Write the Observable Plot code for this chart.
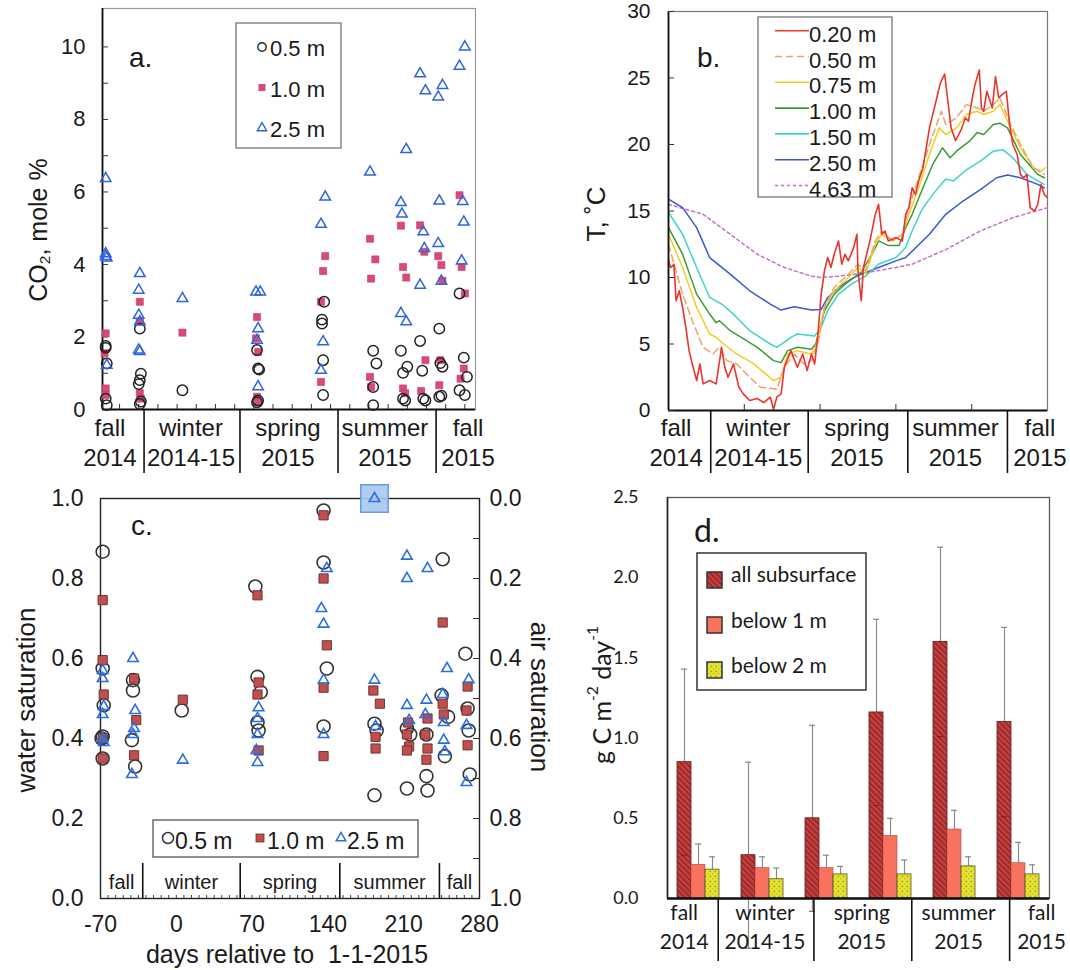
<!DOCTYPE html>
<html>
<head>
<meta charset="utf-8">
<script src="https://cdn.jsdelivr.net/npm/d3@7"></script>
<script src="https://cdn.jsdelivr.net/npm/@observablehq/plot@0.6"></script>
<style>
html,body{margin:0;padding:0;background:#fff;}
#fig{position:relative;width:1070px;height:970px;overflow:hidden;background:#fff;}
#fig svg{position:absolute;overflow:visible;}
</style>
</head>
<body>
<div id="fig"></div>
<script>
// ---------------- shared season axis ----------------
const dayDomain = [-70, 280];
const seasonBounds = [-31, 59, 151, 243];
const seasonNames = ["fall\n2014", "winter\n2014-15", "spring\n2015", "summer\n2015", "fall\n2015"];
const seasonShort = ["fall", "winter", "spring", "summer", "fall"];
const seasonLabelDays = [-63, 13, 104, 195, 273];

// ---------------- panel a: CO2 mole % ----------------
const co2At05 = [
[-67,1.75],[-67,1.70],[-66,1.27],[-67,0.30],[-66,0.12],
[-35,2.23],[-34,0.99],[-35,0.81],[-36,0.70],[-35,0.15],[-34,0.22],
[5,0.53],
[75,1.64],[76,1.13],[77,1.10],[75,0.20],[76,0.25],
[138,2.97],[136,2.48],[136,2.37],[137,1.36],[137,0.40],
[184,1.62],[187,1.27],[184,0.62],[184,0.12],
[210,1.62],[216,1.18],[212,1.01],[212,0.30],[214,0.25],
[228,1.89],[230,1.07],[231,0.30],[233,0.25],
[246,2.23],[249,1.18],[247,1.28],[248,0.38],[246,0.35],
[265,3.20],[269,1.43],[272,0.90],[265,0.53],[270,0.40]
];
const co2At10 = [
[-67,2.10],[-68,1.55],[-67,0.58],[-67,0.40],
[-35,2.97],[-35,2.42],[-35,0.45],[-34,0.30],
[5,2.12],
[75,2.55],[74,1.96],[76,1.59],[75,0.35],[76,0.20],
[139,4.23],[137,3.82],[135,2.97],[135,0.76],
[181,4.71],[186,4.14],[182,3.61],[181,0.90],[182,0.62],
[210,5.07],[212,3.93],[215,3.64],[212,0.58],[214,0.45],
[228,5.08],[232,4.35],[233,1.36],[229,0.51],
[245,4.23],[248,3.98],[249,3.55],[247,1.36],[246,0.67],
[265,5.91],[267,3.93],[270,3.20],[269,1.13],[266,0.85]
];
const co2At25 = [
[-67,6.37],[-67,4.30],[-67,4.22],[-66,4.18],[-66,1.22],
[-35,3.75],[-36,3.29],[-36,2.60],[-35,2.42],[-36,1.64],[-35,1.60],
[5,3.06],
[74,3.24],[78,3.24],[76,2.23],[75,1.91],[76,0.63],
[139,5.86],[135,5.11],[137,1.87],[135,1.08],
[181,6.55],
[215,7.17],[210,5.71],[211,5.39],[210,2.65],[215,2.42],
[228,9.26],[233,8.79],[231,4.90],[232,4.44],[228,3.43],
[249,8.94],[245,8.62],[246,5.75],[245,4.58],[248,3.54],
[270,10.0],[265,9.47],[268,5.74],[269,5.17],[267,4.10]
];
const co2Ticks = [0, 2, 4, 6, 8, 10];
const co2MinorTicks = [1, 2, 3, 4, 5, 6, 7, 8, 9, 10];
const co2Max = 11.06;
const aMinorDays = [-54, -36, -18, 0, 18, 36, 54, 72, 90, 108, 126, 144, 162, 180, 198, 216, 234, 252, 270];

// ---------------- panel b: temperature ----------------
const tDepths = ["0.20 m", "0.50 m", "0.75 m", "1.00 m", "1.50 m", "2.50 m", "4.63 m"];
const tColors = ["#e8352e", "#f3a064", "#f4cd22", "#3c9a3c", "#3fd3c9", "#3a58d0", "#c46fd0"];
const tDashes = [null, "7,4", null, null, null, null, "3,3"];
const T020 = [[-70,11.25],[-68,10.75],[-65,11.0],[-63,8.25],[-60,9.0],[-57,7.75],[-54,6.25],[-51,4.5],[-48,3.5],[-44,2.25],[-41,3.5],[-38,2.0],[-32,2.25],[-26,2.0],[-21,4.75],[-18,3.25],[-15,2.5],[-10,3.5],[-5,1.75],[-1,1.25],[5,0.75],[12,0.9],[18,0.6],[24,1.0],[27,0.1],[30,1.0],[34,1.25],[37,3.25],[43,4.5],[49,3.25],[54,4.25],[58,3.0],[62,4.25],[65,3.5],[68,5.75],[71,8.75],[74,10.5],[77,11.5],[80,10.75],[83,11.75],[87,12.75],[90,11.0],[93,11.75],[96,11.25],[101,12.25],[104,13.25],[105,10.5],[108,8.25],[110,10.75],[113,11.75],[116,12.75],[121,14.75],[124,15.5],[127,13.25],[130,13.5],[133,12.75],[140,13.0],[146,12.75],[149,14.75],[152,15.25],[155,16.75],[158,16.25],[161,17.25],[165,18.25],[171,21.25],[177,23.25],[181,24.6],[185,25.3],[188,23.25],[191,21.25],[195,20.3],[198,20.75],[201,21.25],[204,22.0],[207,21.75],[210,23.25],[213,24.5],[217,25.6],[219,22.75],[221,22.5],[224,24.0],[227,23.25],[229,22.75],[232,25.1],[235,23.5],[238,23.75],[242,24.0],[245,21.5],[248,20.0],[252,19.25],[255,17.75],[258,17.5],[261,17.75],[264,15.25],[268,15.0],[271,15.5],[274,17.0],[277,16.25],[280,16.0]];
const T050 = [[-70,12.5],[-57,8.75],[-48,6.75],[-38,4.75],[-29,4.25],[-23,4.75],[-16,3.75],[-7,3.5],[5,2.5],[15,1.75],[30,1.6],[37,3.25],[46,4.25],[55,3.5],[62,3.75],[68,5.0],[74,7.75],[83,9.25],[93,10.0],[105,11.0],[112,10.5],[121,12.75],[127,13.5],[137,12.75],[146,13.25],[152,15.25],[161,17.5],[171,20.0],[182,22.5],[186,21.5],[196,22.0],[205,23.0],[215,22.75],[221,22.5],[230,23.0],[236,23.5],[246,21.5],[255,20.0],[267,18.25],[277,17.75]];
const T075 = [[-70,13.25],[-57,10.75],[-44,7.75],[-32,5.75],[-26,5.5],[-19,5.0],[-7,4.25],[9,3.5],[27,2.25],[34,2.5],[40,4.25],[49,4.5],[62,4.25],[66,4.75],[74,7.75],[83,9.0],[93,9.75],[105,10.75],[112,10.25],[121,12.5],[127,13.25],[137,12.75],[146,13.25],[152,14.75],[161,16.75],[171,19.25],[180,21.25],[186,20.75],[196,21.25],[205,22.25],[215,22.5],[221,22.25],[230,22.5],[236,23.0],[246,21.25],[255,19.75],[267,18.25],[274,18.0],[278,18.25]];
const T100 = [[-70,13.75],[-57,11.75],[-44,8.75],[-32,7.25],[-26,6.6],[-23,6.75],[-13,6.0],[-1,5.4],[12,4.75],[27,3.75],[34,3.6],[40,4.5],[49,4.75],[62,4.6],[66,5.0],[74,7.5],[83,8.75],[93,9.5],[108,10.4],[118,11.75],[124,12.75],[133,12.4],[143,12.4],[149,13.75],[155,14.75],[165,16.75],[174,18.5],[183,19.75],[190,19.0],[196,19.5],[208,20.25],[215,20.9],[221,20.75],[230,21.5],[236,21.6],[243,21.25],[255,19.25],[271,17.75],[277,17.5]];
const T150 = [[-70,14.9],[-57,13.25],[-44,10.75],[-32,8.5],[-19,7.9],[-7,7.0],[5,6.0],[24,5.0],[30,4.75],[43,5.5],[49,5.75],[65,5.6],[71,6.25],[77,7.5],[87,8.75],[99,9.5],[112,10.1],[124,11.0],[140,11.5],[149,12.25],[155,13.5],[164,15.1],[174,16.25],[186,17.4],[193,17.25],[205,18.1],[218,18.75],[230,19.5],[239,19.6],[248,19.0],[261,17.75],[277,17.0]];
const T250 = [[-70,15.9],[-57,15.25],[-44,13.75],[-32,11.5],[-13,10.25],[5,9.0],[24,8.0],[34,7.55],[46,7.8],[62,7.55],[71,7.6],[77,8.5],[87,9.25],[99,9.9],[108,10.25],[124,10.75],[140,11.25],[149,11.5],[171,13.25],[186,14.75],[202,15.75],[218,16.6],[233,17.5],[243,17.7],[255,17.5],[271,17.0],[277,16.75]];
const T463 = [[-70,15.5],[-38,14.75],[-13,13.25],[12,11.75],[37,10.75],[62,10.1],[71,10.0],[87,10.1],[108,10.3],[140,10.75],[155,11.0],[186,12.1],[218,13.5],[248,14.5],[280,15.25]];
const tSeries = [T020, T050, T075, T100, T150, T250, T463];
const tTicks = [0, 5, 10, 15, 20, 25, 30];
const bMinorDays = [0, 70, 140, 210];

// ---------------- panel c: water saturation ----------------
const wsAt05 = [
[-68,0.867],[-68,0.575],[-67,0.483],[-69,0.40],[-68,0.405],[-68,0.35],
[-40,0.546],[-40,0.52],[-41,0.396],[-38,0.33],
[5,0.47],
[73,0.78],[75,0.554],[78,0.516],[75,0.44],[76,0.42],
[136,0.97],[136,0.84],[139,0.575],[136,0.43],
[183,0.437],[185,0.42],[183,0.258],
[213,0.425],[216,0.41],[213,0.275],
[231,0.41],[231,0.306],[232,0.27],
[246,0.848],[245,0.508],[251,0.454],[248,0.356],
[267,0.612],[269,0.475],[270,0.42],[271,0.31]
];
const wsAt10 = [
[-68,0.746],[-68,0.596],[-67,0.51],[-68,0.40],[-68,0.35],
[-39,0.55],[-37,0.446],[-39,0.358],
[6,0.497],
[75,0.758],[76,0.54],[75,0.51],[76,0.37],
[136,0.958],[136,0.80],[139,0.633],[136,0.527],[136,0.356],
[182,0.52],[188,0.487],[184,0.404],[184,0.375],
[214,0.44],[213,0.41],[215,0.38],[213,0.37],
[232,0.45],[230,0.41],[232,0.375],[231,0.347],
[246,0.69],[246,0.487],[247,0.46],
[269,0.53],[268,0.47],[269,0.383]
];
const wsAt25 = [
[-68,0.57],[-68,0.55],[-67,0.48],[-68,0.46],[-68,0.40],[-67,0.39],
[-40,0.60],[-38,0.47],[-39,0.425],[-40,0.41],[-41,0.31],
[6,0.346],
[76,0.477],[75,0.45],[75,0.41],[74,0.37],[75,0.34],
[139,0.825],[134,0.725],[136,0.686],[136,0.546],[136,0.41],
[183,1.0],[183,0.546],[184,0.43],
[213,0.856],[213,0.80],[213,0.483],[215,0.445],
[232,0.825],[231,0.496],[230,0.46],
[250,0.575],[246,0.51],[247,0.44],[247,0.396],[248,0.367],
[270,0.547],[268,0.433],[268,0.29]
];
const wsHighlight = [[183, 1.0]];
const wsTicks = [0, 0.2, 0.4, 0.6, 0.8, 1.0];
const wsMinorTicks = [0.1, 0.2, 0.3, 0.4, 0.5, 0.6, 0.7, 0.8, 0.9];
const cDayTicks = [-70, 0, 70, 140, 210, 280];
const cWeekTicks = d3.range(-63, 280, 7);

// ---------------- panel d: fluxes ----------------
const fluxPeriods = ["P1", "P2", "P3", "P4", "P5", "P6"];
const fluxSeries = ["all subsurface", "below 1 m", "below 2 m"];
const fluxAll = [0.85, 0.27, 0.50, 1.16, 1.60, 1.10];
const fluxAllErr = [0.58, 0.58, 0.58, 0.58, 0.59, 0.59];
const fluxB1 = [0.21, 0.19, 0.19, 0.39, 0.43, 0.22];
const fluxB1Err = [0.13, 0.07, 0.08, 0.11, 0.12, 0.13];
const fluxB2 = [0.18, 0.12, 0.15, 0.15, 0.20, 0.15];
const fluxB2Err = [0.08, 0.07, 0.05, 0.09, 0.06, 0.06];
const fluxTicks = [0, 0.5, 1.0, 1.5, 2.0, 2.5];
const dDayDomain = [-78.7, 280.5];

// ================= drawing =================
const fig = document.getElementById("fig");
const SANS = "'Liberation Sans', Arial, Helvetica, sans-serif";
const CAL = "Lato, 'Open Sans', sans-serif";
const f1 = d3.format(".1f");
const px = d => d[0], py = d => d[1];
const seasonRows = seasonNames.map((name, i) => ({name, day: seasonLabelDays[i]}));
const edges = [dayDomain[0], ...seasonBounds, dayDomain[1]];
const cSeasonRows = seasonShort.map((name, i) => ({name, mid: (edges[i] + edges[i + 1]) / 2}));

function mount(svg, left, top) {
  svg.style.left = left + "px";
  svg.style.top = top + "px";
  fig.appendChild(svg);
}
const baseStyle = (family, size) => ({fontFamily: family, fontSize: size + "px", color: "#1a1a1a", background: "none", overflow: "visible"});

// patterns
const defsSvg = d3.select(fig).append("svg").attr("width", 1).attr("height", 1).style("left", "0px").style("top", "0px");
const defs = defsSvg.append("defs");
const hatch = defs.append("pattern").attr("id", "hatchRed").attr("patternUnits", "userSpaceOnUse")
  .attr("width", 4).attr("height", 4).attr("patternTransform", "rotate(-45)");
hatch.append("rect").attr("width", 4).attr("height", 4).attr("fill", "#c9413f");
hatch.append("line").attr("x1", 0.8).attr("y1", 0).attr("x2", 0.8).attr("y2", 4).attr("stroke", "#8d2123").attr("stroke-width", 1.5);
const dots = defs.append("pattern").attr("id", "dotsYellow").attr("patternUnits", "userSpaceOnUse").attr("width", 5).attr("height", 5);
dots.append("rect").attr("width", 5).attr("height", 5).attr("fill", "#e6e32e");
dots.append("circle").attr("cx", 1.3).attr("cy", 1.3).attr("r", 0.9).attr("fill", "#8ea12c");
dots.append("circle").attr("cx", 3.8).attr("cy", 3.8).attr("r", 0.8).attr("fill", "#b5bf3a");

// ---- panel a
const plotA = Plot.plot({
  width: 540, height: 480,
  marginLeft: 102, marginRight: 65, marginTop: 8, marginBottom: 71,
  style: baseStyle(SANS, 22),
  x: {domain: dayDomain, label: null},
  y: {domain: [0, co2Max], label: null},
  marks: [
    Plot.frame({stroke: "#9a9a9a", strokeWidth: 1.2}),
    Plot.ruleX([dayDomain[0]], {stroke: "#111", strokeWidth: 1.8}),
    Plot.ruleY([0], {stroke: "#111", strokeWidth: 1.8}),
    Plot.axisY(co2Ticks, {tickSize: 0, tickPadding: 17, label: null, fontSize: 22}),
    Plot.axisY(co2MinorTicks, {tickSize: -6, fill: "none", label: null, stroke: "#333"}),
    Plot.axisX(aMinorDays, {tickSize: -5, fill: "none", label: null, stroke: "#333"}),
    Plot.axisX(seasonBounds, {tickSize: 64, fill: "none", label: null, stroke: "#111", strokeWidth: 1.6}),
    Plot.text(seasonRows, {x: "day", text: "name", frameAnchor: "bottom", dy: 56, lineAnchor: "bottom", lineHeight: 1.25, fontSize: 24, fill: "#1a1a1a"}),
    Plot.dot(co2At10, {x: px, y: py, symbol: "square", r: 4, fill: "#d84b78", stroke: "#c43a66", strokeWidth: 0.6}),
    Plot.dot(co2At05, {x: px, y: py, symbol: "circle", r: 5.2, fill: "none", stroke: "#222", strokeWidth: 1.5}),
    Plot.dot(co2At25, {x: px, y: py, symbol: "triangle", r: 3.9, fill: "none", stroke: "#2f63e0", strokeWidth: 1.5})
  ]
});
mount(plotA, 0, 0);

// ---- panel b
const lineMarks = [];
for (let i = tSeries.length - 1; i >= 0; i--) {
  lineMarks.push(Plot.line(tSeries[i], {x: px, y: py, stroke: tColors[i], strokeWidth: i === 0 ? 1.6 : 1.5, strokeDasharray: tDashes[i]}));
}
const plotB = Plot.plot({
  width: 530, height: 480,
  marginLeft: 128, marginRight: 23, marginTop: 11, marginBottom: 70,
  style: baseStyle(SANS, 22),
  x: {domain: dayDomain, label: null},
  y: {domain: [0, 30], label: null},
  marks: [
    Plot.frame({stroke: "#777", strokeWidth: 1.2}),
    ...lineMarks,
    Plot.ruleX([dayDomain[0]], {stroke: "#111", strokeWidth: 1.8}),
    Plot.ruleY([0], {stroke: "#111", strokeWidth: 1.8}),
    Plot.axisY(tTicks, {tickSize: 0, tickPadding: 18, label: null, fontSize: 21}),
    Plot.axisY(tTicks, {tickSize: -6, fill: "none", label: null, stroke: "#333"}),
    Plot.axisX(bMinorDays, {tickSize: -6, fill: "none", label: null, stroke: "#333"}),
    Plot.axisX(seasonBounds, {tickSize: 63, fill: "none", label: null, stroke: "#111", strokeWidth: 1.6}),
    Plot.text(seasonRows, {x: "day", text: "name", frameAnchor: "bottom", dy: 55, lineAnchor: "bottom", lineHeight: 1.25, fontSize: 24, fill: "#1a1a1a"})
  ]
});
mount(plotB, 540, 0);

// ---- panel c
const plotC = Plot.plot({
  width: 540, height: 490,
  marginLeft: 100, marginRight: 61, marginTop: 18, marginBottom: 72,
  style: baseStyle(SANS, 23),
  x: {domain: dayDomain, label: null},
  y: {domain: [0, 1], label: null},
  marks: [
    Plot.frame({stroke: "#222", strokeWidth: 1.4}),
    Plot.axisY(wsTicks, {tickSize: 0, tickPadding: 17, tickFormat: f1, label: null, fontSize: 23}),
    Plot.axisY(wsTicks, {anchor: "right", tickSize: 0, tickPadding: 10, tickFormat: d => f1(1 - d), label: null, fontSize: 23}),
    Plot.axisY(wsMinorTicks, {anchor: "right", tickSize: -7, fill: "none", label: null, stroke: "#333"}),
    Plot.axisX(cDayTicks, {tickSize: 0, tickPadding: 17, tickFormat: d => String(d), label: null, fontSize: 23}),
    Plot.axisX(cWeekTicks, {tickSize: -3, fill: "none", label: null, stroke: "#444"}),
    Plot.axisX(seasonBounds, {tickSize: -35, fill: "none", label: null, stroke: "#111", strokeWidth: 1.6}),
    Plot.text(cSeasonRows, {x: "mid", text: "name", frameAnchor: "bottom", dy: -10, lineAnchor: "bottom", fontSize: 20, fill: "#1a1a1a"}),
    Plot.dot(wsHighlight, {x: px, y: py, symbol: "square", r: 15.5, fill: "#a7c8f0", fillOpacity: 0.9, stroke: "#6a9be0", strokeWidth: 1.5}),
    Plot.dot(wsAt05, {x: px, y: py, symbol: "circle", r: 6.5, fill: "none", stroke: "#333", strokeWidth: 1.6}),
    Plot.dot(wsAt10, {x: px, y: py, symbol: "square", r: 5.2, fill: "#c0504d", stroke: "#6b2a28", strokeWidth: 0.9}),
    Plot.dot(wsAt25, {x: px, y: py, symbol: "triangle", r: 3.9, fill: "none", stroke: "#2a6ee0", strokeWidth: 1.6})
  ]
});
mount(plotC, 0, 480);

// ---- panel d bars
const dRows = [];
fluxPeriods.forEach((p, i) => {
  dRows.push({period: p, series: fluxSeries[0], value: fluxAll[i], err: fluxAllErr[i]});
  dRows.push({period: p, series: fluxSeries[1], value: fluxB1[i], err: fluxB1Err[i]});
  dRows.push({period: p, series: fluxSeries[2], value: fluxB2[i], err: fluxB2Err[i]});
});
const plotD = Plot.plot({
  width: 530, height: 490,
  marginLeft: 127, marginRight: 21, marginTop: 17, marginBottom: 72,
  style: baseStyle(CAL, 18),
  facet: {data: dRows, x: "period"},
  fx: {domain: fluxPeriods, paddingInner: 0.31, paddingOuter: 0.13, axis: null, label: null},
  x: {domain: fluxSeries, padding: 0, axis: null, label: null},
  y: {domain: [0, 2.5], axis: null, label: null},
  marks: [
    Plot.ruleX(dRows, {x: "series", y1: d => d.value - d.err, y2: d => d.value + d.err, stroke: "#8a8a8a", strokeWidth: 1.2}),
    Plot.tickY(dRows, {x: "series", y: d => d.value + d.err, stroke: "#8a8a8a", strokeWidth: 1.2, insetLeft: 4, insetRight: 4}),
    Plot.barY(dRows, {filter: d => d.series === fluxSeries[0], x: "series", y: "value", fill: "url(#hatchRed)", stroke: "#5e1c1c", strokeWidth: 0.8}),
    Plot.barY(dRows, {filter: d => d.series === fluxSeries[1], x: "series", y: "value", fill: "#f8735f", stroke: "#b04a3c", strokeWidth: 0.6}),
    Plot.barY(dRows, {filter: d => d.series === fluxSeries[2], x: "series", y: "value", fill: "url(#dotsYellow)", stroke: "#4d5a12", strokeWidth: 0.8}),
    Plot.tickY(dRows, {filter: d => d.series === fluxSeries[0], x: "series", y: d => d.value - d.err, stroke: "#6b1a1a", strokeOpacity: 0.7, strokeWidth: 1.2, insetLeft: 4, insetRight: 4})
  ]
});
mount(plotD, 540, 480);

// ---- panel d frame, axis, seasons
const plotDo = Plot.plot({
  width: 530, height: 490,
  marginLeft: 127, marginRight: 21, marginTop: 17, marginBottom: 72,
  style: baseStyle(CAL, 18),
  x: {domain: dDayDomain, label: null},
  y: {domain: [0, 2.5], label: null},
  marks: [
    Plot.frame({stroke: "#555", strokeWidth: 1.3}),
    Plot.ruleX([dDayDomain[0]], {stroke: "#222", strokeWidth: 1.6}),
    Plot.ruleY([0], {stroke: "#111", strokeWidth: 2.6}),
    Plot.axisY(fluxTicks, {tickSize: 0, tickPadding: 29, tickFormat: f1, label: null, fontSize: 18, fontFamily: CAL}),
    Plot.axisX(seasonBounds, {tickSize: 63, fill: "none", label: null, stroke: "#111", strokeWidth: 1.6}),
    Plot.text(seasonRows, {x: "day", text: "name", frameAnchor: "bottom", dy: 50, lineAnchor: "bottom", lineHeight: 1.35, fontSize: 21, fontFamily: CAL, fill: "#1a1a1a"})
  ]
});
mount(plotDo, 540, 480);

// ================= annotations (titles, axis labels, legends) =================
const ann = d3.select(fig).append("svg").attr("width", 1070).attr("height", 970)
  .style("left", "0px").style("top", "0px").style("pointer-events", "none");

function txt(x, y, s, o = {}) {
  return ann.append("text").attr("x", x).attr("y", y)
    .attr("font-family", o.family || SANS).attr("font-size", o.size || 22)
    .attr("fill", o.fill || "#1a1a1a").attr("text-anchor", o.anchor || "start")
    .style("white-space", "pre").text(s);
}
function rotLabel(x, y, angle, parts, o = {}) {
  const size = o.size || 25;
  const g = ann.append("g").attr("transform", `translate(${x},${y}) rotate(${angle})`);
  const t = g.append("text").attr("text-anchor", "middle").attr("dominant-baseline", "central")
    .attr("font-family", o.family || SANS).attr("font-size", size).attr("fill", "#1a1a1a")
    .style("white-space", "pre");
  parts.forEach(p => {
    const s = t.append("tspan").text(p.t).attr("font-size", p.small ? size * 0.62 : size);
    if (p.dy) s.attr("dy", p.dy);
  });
  return t;
}

// panel letters
txt(129, 67, "a.", {size: 28});
txt(697, 67, "b.", {size: 28});
txt(131, 535, "c.", {size: 28});
txt(694, 542, "d.", {size: 32, family: CAL});

// axis titles
rotLabel(38, 230, -90, [{t: "CO"}, {t: "2", small: true, dy: 6}, {t: ", mole %", dy: -6}], {size: 25});
rotLabel(596, 214, -90, [{t: "T, ˚C"}], {size: 26});
rotLabel(26, 700, -90, [{t: "water saturation"}], {size: 26});
rotLabel(540, 697, 90, [{t: "air saturation"}], {size: 26});
rotLabel(601, 695, -90, [{t: "g C m"}, {t: "-2", small: true, dy: -9}, {t: " day", dy: 9}, {t: "-1", small: true, dy: -9}], {size: 25, family: CAL});
txt(287, 963, "days relative to  1-1-2015", {size: 25, anchor: "middle"});

// legend a
ann.append("rect").attr("x", 236).attr("y", 23).attr("width", 105).attr("height", 125)
  .attr("fill", "#fff").attr("stroke", "#888").attr("stroke-width", 1.5);
ann.append("circle").attr("cx", 262).attr("cy", 47).attr("r", 4.2).attr("fill", "none").attr("stroke", "#222").attr("stroke-width", 1.4);
ann.append("rect").attr("x", 258.5).attr("y", 84).attr("width", 7).attr("height", 7).attr("fill", "#d84b78");
ann.append("path").attr("d", d3.symbol(d3.symbolTriangle, 38)()).attr("transform", "translate(262,128)")
  .attr("fill", "none").attr("stroke", "#2f63e0").attr("stroke-width", 1.4);
txt(270, 56, "0.5 m", {size: 22});
txt(270, 97, "1.0 m", {size: 22});
txt(270, 137, "2.5 m", {size: 22});

// legend b
ann.append("rect").attr("x", 758).attr("y", 17).attr("width", 134).attr("height", 180)
  .attr("fill", "#fff").attr("stroke", "#888").attr("stroke-width", 1.5);
tDepths.forEach((d, i) => {
  const base = 41.7 + i * 25.8;
  const ln = ann.append("line").attr("x1", 775).attr("x2", 809).attr("y1", base - 11).attr("y2", base - 11)
    .attr("stroke", tColors[i]).attr("stroke-width", 1.6);
  if (tDashes[i]) ln.attr("stroke-dasharray", tDashes[i]);
  txt(809, base, d, {size: 22});
});

// legend c
ann.append("rect").attr("x", 153).attr("y", 820).attr("width", 265).attr("height", 37)
  .attr("fill", "#fff").attr("stroke", "#555").attr("stroke-width", 1.3);
ann.append("circle").attr("cx", 168).attr("cy", 838).attr("r", 5.5).attr("fill", "none").attr("stroke", "#333").attr("stroke-width", 1.5);
ann.append("rect").attr("x", 256).attr("y", 834).attr("width", 8).attr("height", 8).attr("fill", "#c0504d").attr("stroke", "#6b2a28").attr("stroke-width", 0.8);
ann.append("path").attr("d", d3.symbol(d3.symbolTriangle, 40)()).attr("transform", "translate(341,838)")
  .attr("fill", "none").attr("stroke", "#2a6ee0").attr("stroke-width", 1.5);
txt(175, 849, "0.5 m", {size: 23});
txt(267, 849, "1.0 m", {size: 23});
txt(347, 849, "2.5 m", {size: 23});

// legend d
ann.append("rect").attr("x", 697).attr("y", 553).attr("width", 169).attr("height", 137)
  .attr("fill", "#fff").attr("stroke", "#333").attr("stroke-width", 1.5);
const dFills = ["url(#hatchRed)", "#f8735f", "url(#dotsYellow)"];
const dRowY = [572, 617, 662];
const dTextY = [582, 628, 673];
fluxSeries.forEach((s, i) => {
  ann.append("rect").attr("x", 707).attr("y", dRowY[i]).attr("width", 15).attr("height", 16)
    .attr("fill", dFills[i]).attr("stroke", "#333").attr("stroke-width", 1.5);
  txt(731, dTextY[i], s, {size: 21, family: CAL});
});
</script>
</body>
</html>
